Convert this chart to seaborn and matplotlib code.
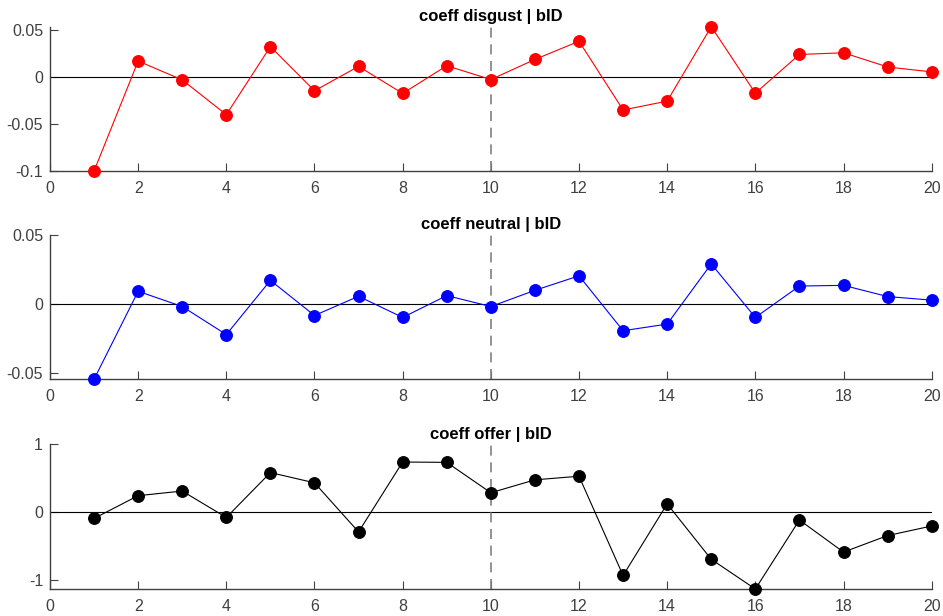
import matplotlib
matplotlib.use("Agg")
import matplotlib.pyplot as plt
import seaborn as sns
import numpy as np
import pandas as pd

# ---- data ----
bid = list(range(1, 21))
coeff_disgust = [-0.100, 0.0171, -0.0030, -0.0400, 0.0325, -0.0146, 0.0114, -0.0174, 0.0121, -0.0026,
                 0.0188, 0.0382, -0.0350, -0.0256, 0.0537, -0.0171, 0.0241, 0.0259, 0.0108, 0.0055]
coeff_neutral = [-0.0543, 0.0093, -0.0017, -0.0220, 0.0172, -0.0082, 0.0057, -0.0096, 0.0062, -0.0017,
                 0.0100, 0.0205, -0.0192, -0.0144, 0.0291, -0.0096, 0.0131, 0.0136, 0.0055, 0.0029]
coeff_offer = [-0.093, 0.242, 0.310, -0.079, 0.582, 0.431, -0.291, 0.737, 0.732, 0.285,
               0.475, 0.528, -0.932, 0.121, -0.694, -1.131, -0.116, -0.588, -0.345, -0.204]

titles = ["coeff disgust | bID", "coeff neutral | bID", "coeff offer | bID"]
colors = ["#ff0000", "#0000ff", "#000000"]
xticks = list(range(0, 21, 2))
xticklabels = [str(v) for v in xticks]
yticks_list = [[-0.1, -0.05, 0, 0.05], [-0.05, 0, 0.05], [-1, 0, 1]]
yticklabels_list = [["-0.1", "-0.05", "0", "0.05"], ["-0.05", "0", "0.05"], ["-1", "0", "1"]]
ylims = [(-0.1, 0.0537), (-0.0543, 0.05), (-1.131, 1.0)]
split_bid = 10

series = [coeff_disgust, coeff_neutral, coeff_offer]

sns.set_theme(style="white")
plt.rcParams['font.family'] = ['Liberation Sans', 'DejaVu Sans']

fig = plt.figure(figsize=(9.43, 6.16), dpi=100)
axes_pos = [
    [0.053, 0.7224, 0.935, 0.2343],
    [0.053, 0.3843, 0.935, 0.2342],
    [0.053, 0.0438, 0.935, 0.2352],
]
axis_color = "#404040"

for i in range(3):
    ax = fig.add_axes(axes_pos[i])
    df = pd.DataFrame({"bID": bid, "coeff": series[i]})
    ax.axhline(0, color="black", lw=0.8, zorder=1)
    ax.axvline(split_bid, color="#808080", lw=1.2, ls=(0, (6, 4)), zorder=1)
    sns.lineplot(data=df, x="bID", y="coeff", ax=ax, color=colors[i], lw=0.8, alpha=1,
                 marker="o", markersize=8.5, markeredgecolor=colors[i],
                 markerfacecolor=colors[i], clip_on=False, zorder=3)
    ax.set_xlim(0, 20)
    ax.set_ylim(*ylims[i])
    ax.set_xticks(xticks)
    ax.set_xticklabels(xticklabels)
    ax.set_yticks(yticks_list[i])
    ax.set_yticklabels(yticklabels_list[i])
    ax.set_xlabel("")
    ax.set_ylabel("")
    for s in ["top", "right"]:
        ax.spines[s].set_visible(False)
    for s in ["left", "bottom"]:
        ax.spines[s].set_color(axis_color)
        ax.spines[s].set_linewidth(1.0)
    ax.tick_params(axis="both", direction="in", length=6, width=0.8,
                   color=axis_color, labelcolor=axis_color, labelsize=11.5,
                   left=True, bottom=True)
    ax.tick_params(axis="x", pad=7)
    ax.tick_params(axis="y", pad=5)
    ax.set_title(titles[i], fontsize=12, fontweight="bold", color="black", pad=4)
    ax.set_facecolor("white")

fig.savefig("out.png", dpi=100, facecolor="white")
